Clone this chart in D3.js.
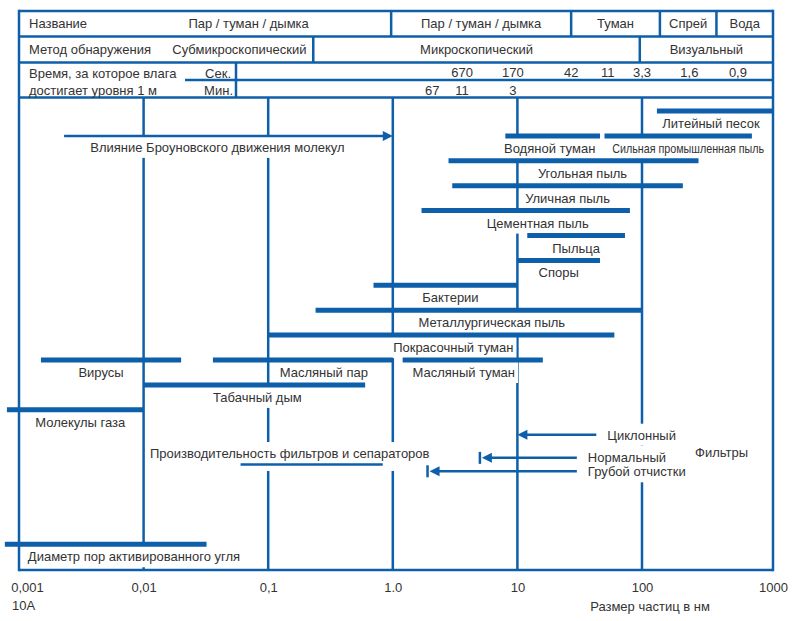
<!DOCTYPE html>
<html>
<head>
<meta charset="utf-8">
<script src="https://cdn.jsdelivr.net/npm/d3@7"></script>
<style>
body { margin: 0; background: #fff; }
text { font-family: 'Liberation Sans', Arial, sans-serif; font-size: 13px; fill: #333; }
</style>
</head>
<body>
<div id="chart"></div>
<script>
// size axis (nm)
const sizeTicks = [0.001, 0.01, 0.1, 1, 10, 100, 1000]
const sizeTickLabels = ['0,001', '0,01', '0,1', '1.0', '10', '100', '1000']

// header table
const stateNames = ['Пар / туман / дымка', 'Пар / туман / дымка', 'Туман', 'Спрей', 'Вода']
const stateBounds = [0.005, 0.97, 27, 137, 370, 1000]
const methodNames = ['Субмикроскопический', 'Микроскопический', 'Визуальный']
const methodBounds = [0.015, 0.23, 96, 1000]
const settleSec = ['670', '170', '42', '11', '3,3', '1,6', '0,9']
const settleSecSize = [3.6, 9.2, 27, 53, 100, 230, 540]
const settleMin = ['67', '11', '3']
const settleMinSize = [2.07, 3.6, 9.2]

// particle ranges
const particleNames = ['Литейный песок', 'Водяной туман', 'Сильная промышленная пыль', 'Угольная пыль', 'Уличная пыль',
    'Цементная пыль', 'Пыльца', 'Споры', 'Бактерии', 'Металлургическая пыль', 'Покрасочный туман', 'Масляный туман',
    'Масляный пар', 'Вирусы', 'Табачный дым', 'Молекулы газа', 'Диаметр пор активированного угля']
const particleMin = [130, 8, 50, 2.8, 3, 1.7, 12, 10, 0.7, 0.24, 0.1, 1.2, 0.036, 0.0015, 0.01, 0.0008, 0.00077]
const particleMax = [1000, 46, 690, 270, 205, 80, 73, 46, 10, 100, 60, 16, 1, 0.02, 0.6, 0.01, 0.032]
const particleRow = [0, 1, 1, 2, 3, 4, 5, 6, 7, 8, 9, 10, 10, 10, 11, 12, 17.4]

// brownian motion arrow
const brownFrom = 0.0023
const brownTo = 1
const brownRow = 1

// filters
const filterNames = ['Циклонный', 'Нормальный', 'Грубой отчистки']
const filterFrom = [43, 30, 30]
const filterTo = [10, 5, 1.9]
const filterRow = [13, 13.93, 14.47]
const sepFrom = 0.06
const sepTo = 0.83
const sepRow = 14.2

// layout
const w = 800
const h = 621
const blue = '#0d5fa9'
const frameL = 19, frameR = 773
const tTop = 11, tR1 = 36.5, tR2 = 62.5, tR3 = 80, tBtm = 97.5, axisY = 570
const labelShift = {
    'Литейный песок': -4, 'Водяной туман': -3, 'Сильная промышленная пыль': 10, 'Угольная пыль': 9,
    'Цементная пыль': 12, 'Бактерии': 5, 'Металлургическая пыль': 13, 'Покрасочный туман': 12,
    'Масляный туман': -9, 'Масляный пар': 21, 'Вирусы': -10, 'Табачный дым': 3, 'Молекулы газа': 5
}
const filterLabelDy = [5, 4, 5]

const x = d3.scaleLog().domain([0.001, 100, 1000]).range([frameL, 642, frameR])
const y = d3.scaleLinear().domain([0, 17]).range([111, 534.3])

const svg = d3.select('#chart')
    .append('svg')
    .attr('width', w)
    .attr('height', h)

const grid = svg.append('g')
const bg = svg.append('g')
const marks = svg.append('g')
const texts = svg.append('g')
const frame = svg.append('g')

// vertical decade lines
grid.selectAll('line')
    .data(sizeTicks.slice(1, -1))
    .enter()
    .append('line')
    .attr('x1', d => x(d))
    .attr('x2', d => x(d))
    .attr('y1', tBtm)
    .attr('y2', axisY)
    .attr('stroke', blue)
    .attr('stroke-width', 2.5)

// text with a white box behind it that cuts the grid lines
function label(txt, xx, yy, anchor, masked, g, padBtm) {
    const t = (g || texts).append('text')
        .attr('x', xx)
        .attr('y', yy)
        .attr('text-anchor', anchor || 'middle')
        .text(txt)
    if (masked) {
        const b = t.node().getBBox()
        bg.append('rect')
            .attr('x', b.x - 3)
            .attr('y', yy - 16)
            .attr('width', b.width + 6)
            .attr('height', 22 + (padBtm || 0))
            .attr('fill', '#fff')
    }
    return t
}

function hline(g, x1, x2, yy, sw) {
    g.append('line')
        .attr('x1', x1).attr('x2', x2)
        .attr('y1', yy).attr('y2', yy)
        .attr('stroke', blue)
        .attr('stroke-width', sw)
}

function vline(g, xx, y1, y2, sw) {
    g.append('line')
        .attr('x1', xx).attr('x2', xx)
        .attr('y1', y1).attr('y2', y2)
        .attr('stroke', blue)
        .attr('stroke-width', sw)
}

// arrow head: tip at (tx, ty), dir -1 points left, 1 points right
function head(tx, ty, dir) {
    marks.append('path')
        .attr('d', `M${tx},${ty}L${tx - dir * 10},${ty - 5}L${tx - dir * 10},${ty + 5}Z`)
        .attr('fill', blue)
}

// particle bars
marks.selectAll('.bar')
    .data(particleNames)
    .enter()
    .append('line')
    .attr('class', 'bar')
    .attr('x1', (d, i) => x(particleMin[i]))
    .attr('x2', (d, i) => x(particleMax[i]))
    .attr('y1', (d, i) => y(particleRow[i]))
    .attr('y2', (d, i) => y(particleRow[i]))
    .attr('stroke', blue)
    .attr('stroke-width', 5)

particleNames.forEach((n, i) => {
    const yy = y(particleRow[i]) + 17
    if (i === particleNames.length - 1) {
        label(n, x(particleMin[i]) + 23, yy, 'start', true)
    } else {
        const cx = (x(particleMin[i]) + x(particleMax[i])) / 2 + (labelShift[n] || 0)
        const t = label(n, cx, yy, 'middle', true)
        if (n === 'Сильная промышленная пыль') {
            t.attr('textLength', 152).attr('lengthAdjust', 'spacingAndGlyphs')
        }
    }
})

// brownian arrow
hline(marks, x(brownFrom), x(brownTo) - 6, y(brownRow), 2.5)
head(x(brownTo), y(brownRow), 1)
label('Влияние Броуновского движения молекул', (x(brownFrom) + x(brownTo)) / 2 - 11, y(brownRow) + 16, 'middle', true)

// filters
filterNames.forEach((n, i) => {
    const yy = y(filterRow[i])
    const tip = x(filterTo[i]) + (i > 0 ? 2 : 0)
    hline(marks, tip + 6, x(filterFrom[i]), yy, 2.5)
    head(tip, yy, -1)
    if (i > 0) vline(marks, x(filterTo[i]), yy - 6, yy + 6, 2.5)
    label(n, x(filterFrom[i]) + 11, yy + filterLabelDy[i], 'start', true)
})
label('Фильтры', 695, 457, 'start', true)

hline(marks, x(sepFrom), x(sepTo), y(sepRow), 2.5)
label('Производительность фильтров и сепараторов', 150, 458, 'start', true, null, 7)

// header table
hline(frame, frameL, frameR, tTop, 2.5)
hline(frame, frameL, frameR, tR1, 2.5)
hline(frame, frameL, frameR, tR2, 2.5)
hline(frame, 185, frameR, tR3, 2.5)
hline(frame, frameL, frameR, tBtm, 2.5)
vline(frame, frameL, tTop - 1.25, axisY + 1.25, 2.5)
vline(frame, frameR, tTop - 1.25, axisY + 1.25, 2.5)
hline(frame, frameL, frameR, axisY, 2.5)

stateBounds.slice(1, -1).forEach(b => vline(frame, x(b), tTop, tR1, 2.5))
methodBounds.slice(1, -1).forEach(b => vline(frame, x(b), tR1, tR2, 2.5))
vline(frame, 236, tR2, tBtm, 2.5)

label('Название', 29, 28, 'start', false, frame)
stateNames.forEach((n, i) => {
    label(n, (x(stateBounds[i]) + x(stateBounds[i + 1])) / 2, 28, 'middle', false, frame)
})
label('Метод обнаружения', 29, 54, 'start', false, frame)
methodNames.forEach((n, i) => {
    label(n, (x(methodBounds[i]) + x(methodBounds[i + 1])) / 2, 54, 'middle', false, frame)
})
label('Время, за которое влага', 29, 78, 'start', false, frame)
label('достигает уровня 1 м', 29, 95, 'start', false, frame)
label('Сек.', 231, 78, 'end', false, frame)
label('Мин.', 233, 95, 'end', false, frame)
settleSec.forEach((n, i) => label(n, x(settleSecSize[i]), 77, 'middle', false, frame))
settleMin.forEach((n, i) => label(n, x(settleMinSize[i]), 95, 'middle', false, frame))

// x axis labels
const xAxis = d3.axisBottom(x)
    .tickValues(sizeTicks)
    .tickFormat((d, i) => sizeTickLabels[i])
    .tickSize(0)
    .tickPadding(13)

const ax = svg.append('g')
    .attr('transform', `translate(0,${axisY})`)
    .call(xAxis)
ax.select('.domain').remove()
ax.selectAll('text').filter(d => d === 0.001).attr('dx', 8)

label('10A', 12, 610, 'start', false, frame)
label('Размер частиц в нм', 650, 611, 'middle', false, frame)
</script>
</body>
</html>
